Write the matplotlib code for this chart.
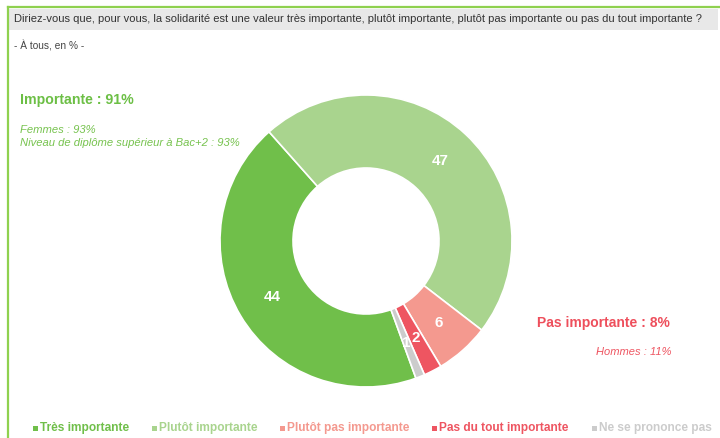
import matplotlib.pyplot as plt
from matplotlib.patches import Rectangle
from matplotlib.lines import Line2D
import numpy as np

# données
categories = ['Très importante', 'Plutôt importante', 'Plutôt pas importante',
              'Pas du tout importante', 'Ne se prononce pas']
valeurs = [44, 47, 6, 2, 1]
couleurs = ['#70bf4a', '#a9d48e', '#f4998f', '#ee5561', '#cccccc']
legende_x = [33, 152, 280, 432, 592]

question = ("Diriez-vous que, pour vous, la solidarité est une valeur très importante, "
            "plutôt importante, plutôt pas importante ou pas du tout importante ?")
sous_titre = "- À tous, en % -"

W, H = 720, 438
plt.rcParams['font.family'] = ['Liberation Sans', 'DejaVu Sans']

fig = plt.figure(figsize=(W / 100, H / 100), dpi=100)


def px(x, y):
    return x / W, 1 - y / H


# cadre vert + bandeau gris
fig.add_artist(Line2D([8 / W, 8 / W], [1 - 7 / H, 0], color='#8fd14f', lw=1.6))
fig.add_artist(Line2D([8 / W, 1], [1 - 7 / H, 1 - 7 / H], color='#8fd14f', lw=1.6))
fig.add_artist(Rectangle(px(9, 30), 709 / W, 21 / H, facecolor='#e8e8e8',
                         edgecolor='none'))
fig.text(*px(14, 19.5), question, fontsize=8.05, color='#333333', va='center')
fig.text(*px(14, 46), sous_titre, fontsize=7.3, color='#444444', va='center')

# anneau
cx, cy, r = 366, 241, 146
ax = fig.add_axes([(cx - r) / W, (H - cy - r) / H, 2 * r / W, 2 * r / H])
wedges, _ = ax.pie(valeurs, colors=couleurs, startangle=-70, counterclock=False,
                   radius=1, wedgeprops=dict(width=0.5, edgecolor='white', linewidth=1.2))
ax.set_xlim(-1, 1)
ax.set_ylim(-1, 1)
ax.axis('off')

for v, w in zip(valeurs, wedges):
    mid = np.deg2rad((w.theta1 + w.theta2) / 2)
    rr = 0.75
    ax.text(rr * np.cos(mid), rr * np.sin(mid), str(v), color='white',
            fontsize=11, fontweight='bold', ha='center', va='center')

# annotations
fig.text(*px(20, 100), "Importante : 91%", fontsize=10.2, fontweight='bold',
         color='#6cbf45', va='center')
fig.text(*px(20, 130), "Femmes : 93%", fontsize=8.1, style='italic',
         color='#77c34f', va='center')
fig.text(*px(20, 143), "Niveau de diplôme supérieur à Bac+2 : 93%", fontsize=8.1,
         style='italic', color='#77c34f', va='center')

fig.text(*px(670, 323), "Pas importante : 8%", fontsize=10, fontweight='bold',
         color='#ee4f5c', ha='right', va='center')
fig.text(*px(671, 352), "Hommes : 11%", fontsize=8, style='italic',
         color='#ee5561', ha='right', va='center')

# légende
for x, lab, c in zip(legende_x, categories, couleurs):
    fig.add_artist(Rectangle(px(x, 430.5), 4.5 / W, 4.5 / H, facecolor=c,
                             edgecolor='none'))
    fig.text(*px(x + 7, 428), lab, fontsize=8.6, fontweight='bold', color=c,
             va='center')

fig.savefig('out.png', dpi=100)
